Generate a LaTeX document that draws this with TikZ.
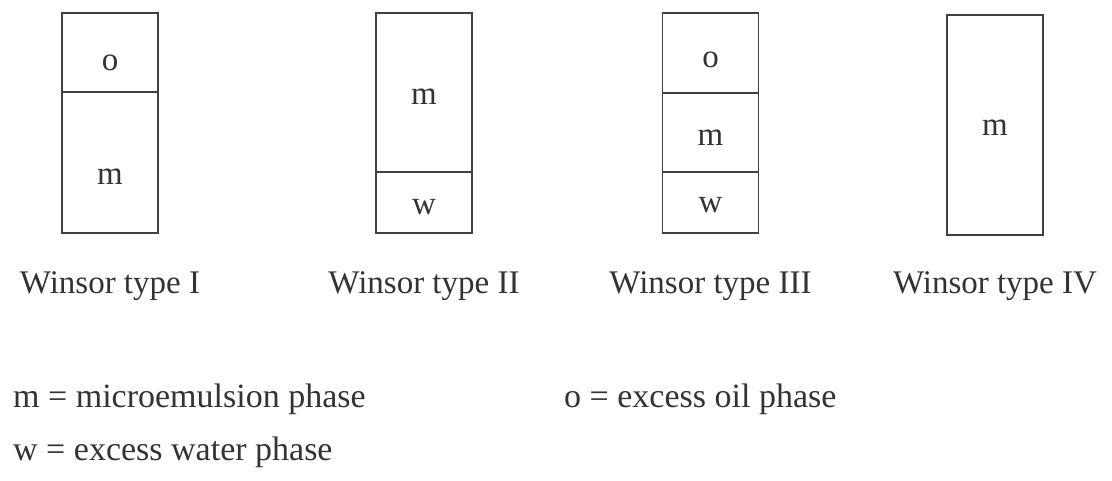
\documentclass[tikz,border=0pt]{standalone}
\usepackage{fontspec}
\setmainfont{Liberation Serif}
\usepackage{tikz}
\usetikzlibrary{positioning}

\tikzset{
	cell/.style={draw=black!75, line width=1.1pt, minimum width=96pt, inner sep=0pt, outer sep=0pt},
	phase/.style={text=black!80, inner sep=0pt},
	caption/.style={text=black!80, anchor=base, inner sep=0pt},
	legend/.style={text=black!80, anchor=base west, inner sep=0pt, font=\fontsize{34}{40}\selectfont}
}

\begin{document}
\begin{tikzpicture}[x=1pt, y=-1pt, font=\fontsize{33}{40}\selectfont]

		\useasboundingbox (0,0) rectangle (1112,481);

		% Type I: oil on top of microemulsion
		\node[cell, minimum height=79pt] (A1) at (110, 52.5) {};
		\node[cell, minimum height=141pt, below=0pt of A1] (A2) {};
		\node[phase] (a1) at (110, 63) {o};
		\node[phase] (a2) at (110, 177) {m};

		% Type II: microemulsion on top of water
		\node[cell, minimum height=159pt] (B1) at (424, 92.5) {};
		\node[cell, minimum height=61pt, below=0pt of B1] (B2) {};
		\node[phase] (b1) at (424, 97) {m};
		\node[phase] (b2) at (424, 207) {w};

		% Type III: three phases
		\node[cell, minimum height=80pt] (C1) at (710.5, 53) {};
		\node[cell, minimum height=79pt, below=0pt of C1] (C2) {};
		\node[cell, minimum height=61pt, below=0pt of C2] (C3) {};
		\node[phase] (c1) at (710.5, 60) {o};
		\node[phase] (c2) at (710.5, 138) {m};
		\node[phase] (c3) at (710.5, 205) {w};

		% Type IV: one phase
		\node[cell, minimum height=220pt] (D1) at (995, 125) {};
		\node[phase] (d1) at (995, 128) {m};

		% Captions
		\node[caption] (capA) at (110, 294) {Winsor type I};
		\node[caption] (capB) at (424, 294) {Winsor type II};
		\node[caption] (capC) at (710.5, 294) {Winsor type III};
		\node[caption] (capD) at (995, 294) {Winsor type IV};

		% Legend
		\node[legend] (legm) at (13, 407) {m = microemulsion phase};
		\node[legend] (lego) at (564, 407) {o = excess oil phase};
		\node[legend] (legw) at (13, 460) {w = excess water phase};

	\end{tikzpicture}
\end{document}
